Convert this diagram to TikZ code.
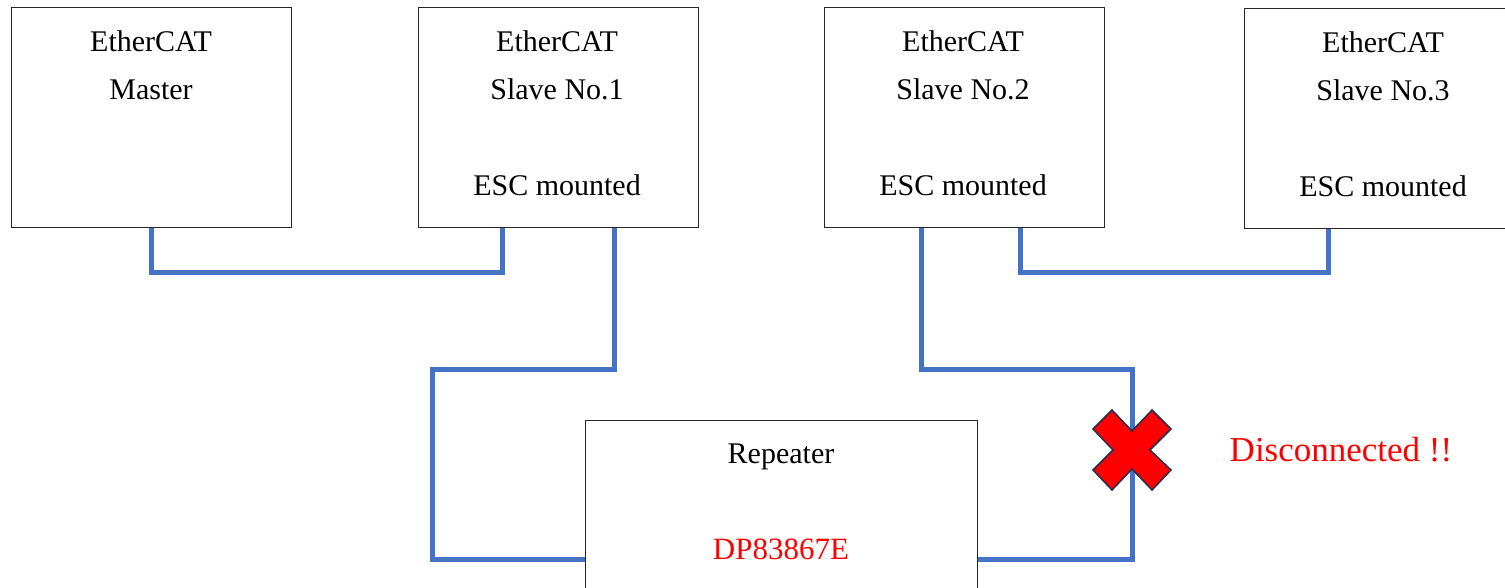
\documentclass[tikz,border=0pt]{standalone}
\usepackage{fontspec}
\setmainfont{Liberation Serif}
\definecolor{cableblue}{HTML}{4472C4}
\definecolor{xnavy}{HTML}{1F3050}
\definecolor{xred}{HTML}{FF0000}
\begin{document}
\begin{tikzpicture}[x=1pt,y=-1pt,
  box/.style={draw=black!85, line width=1.2pt, fill=white, inner sep=0pt, anchor=north west, minimum width=280pt, minimum height=220pt},
  cable/.style={draw=cableblue, line width=5pt},
  lbl/.style={font=\fontsize{30}{36}\selectfont, anchor=base, inner sep=0pt},
  redlbl/.style={lbl, text=xred},
  xmark/.style={fill=xred, draw=xnavy, line width=1.5pt, line join=miter}]
\useasboundingbox (0,0) rectangle (1505,587);
\fill[white] (0,0) rectangle (1505,587);
% boxes
\node[box] (m) at (11,7) {};
\node[box] (s1) at (418,7) {};
\node[box] (s2) at (824,7) {};
\node[box, minimum width=320pt] (s3) at (1244,8) {};
\node[box, minimum width=392pt, minimum height=200pt] (rep) at (585,420) {};
% texts
\node[lbl] (mt1) at (151,51) {EtherCAT};
\node[lbl] (mt2) at (151,99) {Master};
\node[lbl] (s1t1) at (557,51) {EtherCAT};
\node[lbl] (s1t2) at (557,99) {Slave No.1};
\node[lbl] (s1t3) at (557,195) {ESC mounted};
\node[lbl] (s2t1) at (963,51) {EtherCAT};
\node[lbl] (s2t2) at (963,99) {Slave No.2};
\node[lbl] (s2t3) at (963,195) {ESC mounted};
\node[lbl] (s3t1) at (1383,52) {EtherCAT};
\node[lbl] (s3t2) at (1383,100) {Slave No.3};
\node[lbl] (s3t3) at (1383,196) {ESC mounted};
\node[lbl] (rt1) at (781,463) {Repeater};
\node[redlbl, font=\fontsize{31}{36}\selectfont] (rt2) at (781,559) {DP83867E};
\node[redlbl, font=\fontsize{35}{40}\selectfont] (disc) at (1341,461) {Disconnected !!};
% cables
\draw[cable] (m.south) -- ++(0,44) -| ([xshift=-56.5pt]s1.south);
\draw[cable] ([xshift=55.5pt]s1.south) -- ++(0,141) -- ++(-182,0) |- ([yshift=-139pt]rep.north west);
\draw[cable] ([xshift=-43pt]s2.south) -- ++(0,141) -- ++(211,0) |- ([yshift=-139pt]rep.north east);
\draw[cable] ([xshift=56pt]s2.south) -- ++(0,44) -| ([xshift=-76pt]s3.south);
% cross mark
\coordinate (xc) at (1132,450);
\begin{scope}[shift={(xc)}]
\filldraw[xmark] (0,-19) -- (20,-40) -- (39,-21) -- (18,0) -- (39,20) -- (20,40) -- (0,19)
  -- (-20,40) -- (-39,20) -- (-19,0) -- (-39,-21) -- (-20,-40) -- cycle;
\end{scope}
\end{tikzpicture}
\end{document}
